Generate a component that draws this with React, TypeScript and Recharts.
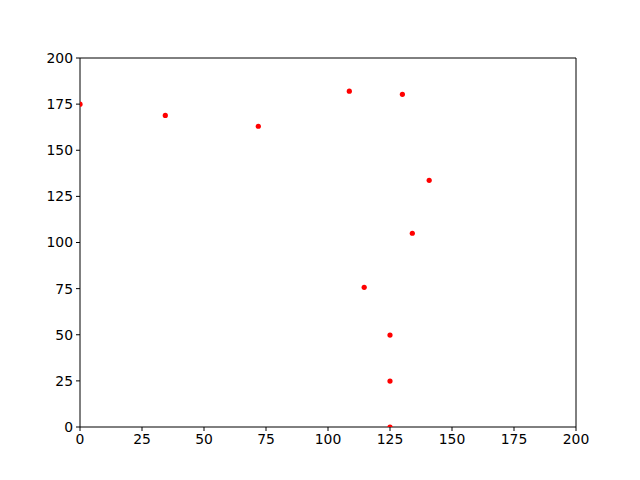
import { ScatterChart, Scatter, XAxis, YAxis, ReferenceLine } from "recharts";

const xValues = [0, 34.4, 71.9, 108.6, 130.0, 140.8, 134.0, 114.6, 125, 125, 125];
const yValues = [175, 168.9, 163.0, 182.0, 180.3, 133.7, 105.0, 75.7, 49.8, 24.9, 0];
const ticks = [0, 25, 50, 75, 100, 125, 150, 175, 200];

const points = xValues.map((x, i) => ({ x, y: yValues[i] }));

const tickStyle = { fill: "#000", fontSize: 13.9, fontFamily: "DejaVu Sans" };

function Dot(props: any) {
  return <circle cx={props.cx} cy={props.cy} r={2.6} fill="#ff0000" />;
}

export default function App() {
  return (
    <div style={{ position: "absolute", left: 0, top: 0, background: "#fff" }}>
      <ScatterChart
        width={640}
        height={480}
        margin={{ top: 58, right: 64, left: 30, bottom: 23 }}
      >
        <XAxis
          type="number"
          dataKey="x"
          domain={[0, 200]}
          ticks={ticks}
          allowDataOverflow
          height={30}
          tickSize={4}
          tickMargin={3}
          stroke="#000"
          tick={tickStyle}
        />
        <YAxis
          type="number"
          dataKey="y"
          domain={[0, 200]}
          ticks={ticks}
          allowDataOverflow
          width={50}
          tickSize={4}
          tickMargin={3}
          stroke="#000"
          tick={tickStyle}
        />
        <ReferenceLine y={200} stroke="#000" />
        <ReferenceLine x={200} stroke="#000" />
        <Scatter data={points} shape={Dot} isAnimationActive={false} />
      </ScatterChart>
    </div>
  );
}
